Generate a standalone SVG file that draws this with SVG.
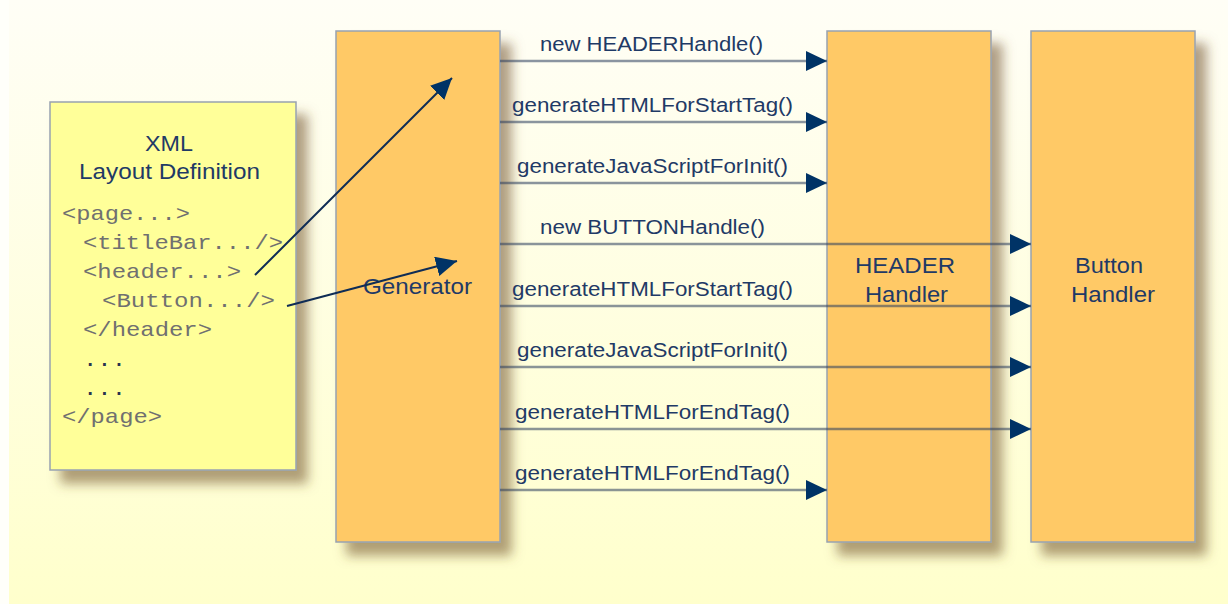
<svg xmlns="http://www.w3.org/2000/svg" width="1228" height="604" viewBox="0 0 1228 604">
  <defs>
    <linearGradient id="bg" x1="0" y1="0" x2="0" y2="1">
      <stop offset="0" stop-color="#fffef6"/>
      <stop offset="1" stop-color="#ffffcc"/>
    </linearGradient>
    <filter id="shadow" x="-20%" y="-10%" width="150%" height="130%">
      <feDropShadow dx="11" dy="13" stdDeviation="6" flood-color="#6e5028" flood-opacity="0.55"/>
    </filter>
    <marker id="arrow" markerUnits="userSpaceOnUse" viewBox="0 0 21 20" markerWidth="21" markerHeight="20" refX="21" refY="10" orient="auto">
      <path d="M0,0 L21,10 L0,20 z" fill="#003366"/>
    </marker>
    <style>
      .box { stroke: #98a2b0; stroke-width: 1.5; filter: url(#shadow); }
      .xmlbox { fill: #ffff99; }
      .orange { fill: #ffc966; }
      .title { font-family: "Liberation Sans", Arial, sans-serif; font-size: 22px; fill: #1f3a66; }
      .label { font-family: "Liberation Sans", Arial, sans-serif; font-size: 20px; fill: #1f3a66; }
      .mono { font-family: "Liberation Mono", "Courier New", monospace; font-size: 21px; fill: #707070; }
      .dots { fill: #2a3350; }
      .call { stroke: #2a3d5c; stroke-opacity: 0.55; stroke-width: 2.5; fill: none; marker-end: url(#arrow); }
      .diag { stroke: #0f2c55; stroke-width: 2; fill: none; marker-end: url(#arrow); }
    </style>
  </defs>

  <rect x="0" y="0" width="1228" height="604" fill="#fffffa"/>
  <rect x="9" y="0" width="1219" height="604" fill="url(#bg)"/>

  <g id="xml-layout-definition">
    <rect class="box xmlbox" x="50" y="102" width="246" height="368"/>
    <text class="title" x="145" y="151" textLength="48" lengthAdjust="spacingAndGlyphs">XML</text>
    <text class="title" x="79" y="179" textLength="181" lengthAdjust="spacingAndGlyphs">Layout Definition</text>
    <text class="mono" x="62" y="220" textLength="128" lengthAdjust="spacingAndGlyphs">&lt;page...&gt;</text>
    <text class="mono" x="83" y="249" textLength="200" lengthAdjust="spacingAndGlyphs">&lt;titleBar.../&gt;</text>
    <text class="mono" x="83" y="278" textLength="158" lengthAdjust="spacingAndGlyphs">&lt;header...&gt;</text>
    <text class="mono" x="102" y="307" textLength="173" lengthAdjust="spacingAndGlyphs">&lt;Button.../&gt;</text>
    <text class="mono" x="83" y="336" textLength="129" lengthAdjust="spacingAndGlyphs">&lt;/header&gt;</text>
    <text class="mono dots" x="83" y="366" textLength="43" lengthAdjust="spacingAndGlyphs">...</text>
    <text class="mono dots" x="83" y="395" textLength="43" lengthAdjust="spacingAndGlyphs">...</text>
    <text class="mono" x="62" y="423" textLength="100" lengthAdjust="spacingAndGlyphs">&lt;/page&gt;</text>
  </g>

  <g id="generator">
    <rect class="box orange" x="336" y="31" width="164" height="511"/>
    <text class="title" x="363" y="294" textLength="109" lengthAdjust="spacingAndGlyphs">Generator</text>
  </g>

  <g id="header-handler">
    <rect class="box orange" x="827" y="31" width="164" height="511"/>
    <text class="title" x="855" y="273" textLength="100" lengthAdjust="spacingAndGlyphs">HEADER</text>
    <text class="title" x="865" y="302" textLength="83" lengthAdjust="spacingAndGlyphs">Handler</text>
  </g>

  <g id="button-handler">
    <rect class="box orange" x="1031" y="31" width="164" height="511"/>
    <text class="title" x="1075" y="273" textLength="68" lengthAdjust="spacingAndGlyphs">Button</text>
    <text class="title" x="1071" y="302" textLength="84" lengthAdjust="spacingAndGlyphs">Handler</text>
  </g>

  <g id="connectors">
    <line class="diag" x1="255" y1="275" x2="452" y2="78"/>
    <line class="diag" x1="287" y1="306" x2="457" y2="261"/>

    <line class="call" x1="500" y1="61" x2="827" y2="61"/>
    <line class="call" x1="500" y1="122" x2="827" y2="122"/>
    <line class="call" x1="500" y1="183" x2="827" y2="183"/>
    <line class="call" x1="500" y1="244" x2="1031" y2="244"/>
    <line class="call" x1="500" y1="306" x2="1031" y2="306"/>
    <line class="call" x1="500" y1="367" x2="1031" y2="367"/>
    <line class="call" x1="500" y1="429" x2="1031" y2="429"/>
    <line class="call" x1="500" y1="490" x2="827" y2="490"/>

    <text class="label" x="540" y="51" textLength="223" lengthAdjust="spacingAndGlyphs">new HEADERHandle()</text>
    <text class="label" x="512" y="112" textLength="281" lengthAdjust="spacingAndGlyphs">generateHTMLForStartTag()</text>
    <text class="label" x="517" y="173" textLength="271" lengthAdjust="spacingAndGlyphs">generateJavaScriptForInit()</text>
    <text class="label" x="540" y="234" textLength="225" lengthAdjust="spacingAndGlyphs">new BUTTONHandle()</text>
    <text class="label" x="512" y="296" textLength="281" lengthAdjust="spacingAndGlyphs">generateHTMLForStartTag()</text>
    <text class="label" x="517" y="357" textLength="271" lengthAdjust="spacingAndGlyphs">generateJavaScriptForInit()</text>
    <text class="label" x="515" y="419" textLength="275" lengthAdjust="spacingAndGlyphs">generateHTMLForEndTag()</text>
    <text class="label" x="515" y="480" textLength="275" lengthAdjust="spacingAndGlyphs">generateHTMLForEndTag()</text>
  </g>
</svg>
